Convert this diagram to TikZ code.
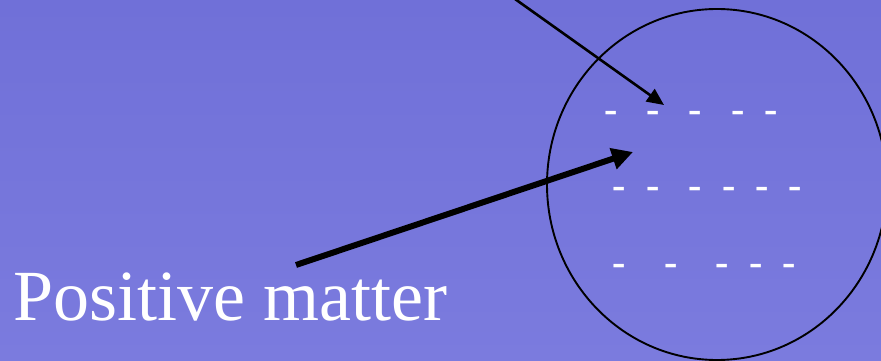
\documentclass[tikz,border=0pt]{standalone}
\usepackage{fontspec}
\setmainfont{Liberation Serif}
\usetikzlibrary{arrows.meta}
\definecolor{slideTop}{RGB}{112,112,216}
\definecolor{slideBottom}{RGB}{123,123,222}

\begin{document}
\begin{tikzpicture}[
    x=1pt,y=-1pt,
    charge/.style={text=white,inner sep=0pt,anchor=base,font=\bfseries\fontsize{40}{40}\selectfont},
    arrow/.style={-{Triangle[length=17pt,width=15pt]},line width=2.6pt},
    bigarrow/.style={-{Triangle[length=21pt,width=21pt]},line width=6pt},
    label/.style={text=white,inner sep=0pt,anchor=base west,font=\fontsize{72}{80}\selectfont}
  ]
    \useasboundingbox (0,0) rectangle (881,361);
    \shade[top color=slideTop,bottom color=slideBottom] (0,0) rectangle (881,361);
    % the body and its negative charges
    \draw[line width=1.9pt] (717,184.5) ellipse [x radius=170,y radius=175.5];
    \foreach \x in {611,653,695,738,771} \node[charge] at (\x,122) {-};
    \foreach \x in {619,653,695,729,762,795} \node[charge] at (\x,198) {-};
    \foreach \x in {619,671,722,756,789} \node[charge] at (\x,275) {-};
    \node[label] (positive) at (13,320) {Positive matter};
    \coordinate (top) at (515,-1);
    \coordinate (charges) at (664,105);
    \coordinate (tail) at (296,265);
    \coordinate (inside) at (633,152);
    \draw[arrow] (top) -- (charges);
    \draw[bigarrow] (tail) -- (inside);
  \end{tikzpicture}
\end{document}
